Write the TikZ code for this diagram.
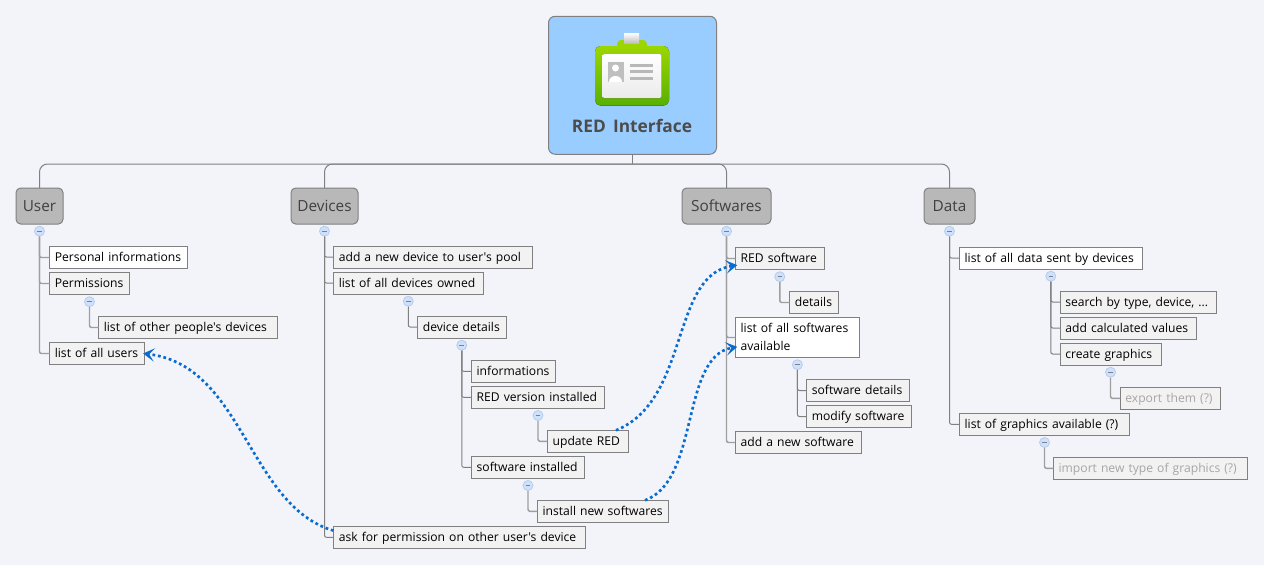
\documentclass[tikz,border=0pt]{standalone}
\usepackage{fontspec}
\setmainfont{Open Sans}[Ligatures=TeXOff,WordSpace=1.6]
\usetikzlibrary{arrows.meta,positioning}
\definecolor{pagebg}{HTML}{F2F4FA}
\definecolor{leafbg}{HTML}{F2F2F2}
\definecolor{rootbg}{HTML}{99CCFF}
\definecolor{branchbg}{HTML}{B8B8B8}
\definecolor{linegray}{HTML}{808080}
\definecolor{ghosttext}{HTML}{A6A6A6}
\definecolor{relblue}{HTML}{0B6CD0}
\definecolor{togglebg}{HTML}{CFE0FA}
\definecolor{toggleline}{HTML}{B4CCF0}
\definecolor{badgetop}{HTML}{9CD600}
\definecolor{badgebot}{HTML}{58B000}
\tikzset{
	branch/.style={draw=linegray,fill=branchbg,rounded corners=3.5pt,line width=.75pt,outer sep=0pt,minimum height=27pt,text=black!75,font=\fontsize{11.5}{14}\selectfont},
	leaf/.style={draw=linegray,fill=leafbg,line width=.75pt,outer sep=0pt,inner xsep=4pt,inner ysep=0pt,text height=8.5pt,text depth=2.5pt,minimum height=16.5pt,align=left,anchor=west,font=\fontsize{9.1}{13.5}\selectfont},
	toggle/.style={circle,draw=toggleline,fill=togglebg,line width=.6pt,minimum size=7.5pt,inner sep=0pt,path picture={\draw[linegray,line width=.5pt] ([xshift=-1.7pt]path picture bounding box.center) -- ([xshift=1.7pt]path picture bounding box.center);}},
	link/.style={draw=linegray,line width=.75pt},
	stem/.style={draw=black!38,line width=1.1pt,rounded corners=1.5pt},
	relation/.style={draw=relblue,line width=2pt,dash pattern=on 2.1pt off 2.1pt,-{Stealth[length=8.5pt,width=10pt,inset=4pt]}}
}
\begin{document}
\begin{tikzpicture}[x=.75pt,y=-.75pt]
	\useasboundingbox[fill=pagebg] (0,0) rectangle (1264,565);

	\node[draw=linegray,fill=rootbg,rounded corners=5pt,line width=.75pt,outer sep=0pt,minimum width=126pt,minimum height=103.5pt] (root) at (632.5,85.25) {};
	\node[font=\bfseries\fontsize{13}{16}\selectfont,text=black!70,inner sep=0pt] (rootlabel) at (632,125.5) {RED Interface};

	% badge
	\fill[rounded corners=3pt,badgetop] (617,40) rectangle (647,52);
	\fill[rounded corners=4pt,top color=badgetop,bottom color=badgebot] (595,46) rectangle (669,105.5);
	\fill[top color=white,bottom color=black!25] (624,33) rectangle (639,43);
	\fill[rounded corners=1pt,top color=white,bottom color=black!8] (602.5,54) rectangle (661.5,98);
	\fill[black!25] (607.5,62) rectangle (623.5,81.5);
	\fill[white] (615.5,68) circle (3.5);
	\fill[white] (609,81.5) .. controls (609,74) and (622,74) .. (622,81.5) -- cycle;
	\foreach \y in {65,71.5,78}
		\fill[black!28] (630,\y-1.5) rectangle (653,\y+1.5);

	\foreach \name/\x/\w/\txt in {User/39.5/47/User,Devices/324.5/67/Devices,Softwares/726.5/89/Softwares,Data/949.5/51/Data}
		\node[branch,minimum width=\w*.75pt] (\name) at (\x,206) {\txt};

	\foreach \name/\x/\y/\w/\txt in {
		perms/49.5/283.5/80/Permissions,
		otherdev/98.5/327.5/178.5/list of other people's devices,
		allusers/49.5/353.5/95/list of all users,
		newdev/333.5/257/198.5/add a new device to user's pool,
		alldev/333.5/283/149.5/list of all devices owned,
		devdetails/417.5/327/88.5/device details,
		devinfo/471.3/371.3/84.4/informations,
		redver/471.3/397.3/133.4/RED version installed,
		updred/547.3/441.3/81.4/update RED,
		swinst/471.3/467.3/113.4/software installed,
		instsw/537.3/511.3/131.4/install new softwares,
		askperm/333.5/537.3/252.2/ask for permission on other user's device,
		redsw/735.3/258.5/89/RED software,
		swdet/789.5/302.5/49/details,
		swdetails/806.5/390.5/103/software details,
		modsw/806.5/416.5/105/modify software,
		newsw/735.3/442.5/126.2/add a new software,
		search/1060/302/156/{search by type, device, ...},
		addcalc/1060/328/136/add calculated values,
		graphics/1060/354/101/create graphics,
		graphlist/959.3/424.3/170.4/list of graphics available (?)}
		\node[leaf,text width=\w*.75pt-8pt] (\name) at (\x,\y) {\txt};

	\node[leaf,fill=white,text width=138*.75pt-8pt] (perinfo) at (49.5,257.5) {Personal informations};
	\node[leaf,fill=white,text width=183*.75pt-8pt] (alldata) at (959.3,258) {list of all data sent by devices};
	\node[leaf,fill=white,text width=124.2*.75pt-8pt,minimum height=30pt,text depth=16pt] (swlist) at (735.3,337.5) {list of all softwares\\available};
	\node[leaf,text=ghosttext,text width=100.4*.75pt-8pt] (export) at (1120,398.3) {export them (?)};
	\node[leaf,text=ghosttext,text width=194.2*.75pt-8pt] (importgr) at (1053.3,468.3) {import new type of graphics (?)};

	\coordinate (hub) at (632.5,164);
	\draw[link] (root.south) -- (hub);
	\draw[link,rounded corners=6pt] (User.north) |- (hub) -| (Data.north);
	\draw[link,rounded corners=6pt] (Devices.north) |- (hub);
	\draw[link,rounded corners=6pt] (Softwares.north) |- (hub);

	\foreach \up in {User,Devices,Softwares,Data,perms,alldev,devdetails,redver,swinst,redsw,swlist,alldata,graphics,graphlist}
		\node[toggle] (tg\up) at ([yshift=-5.4pt]\up.south) {};

	\foreach \up/\kid in {User/perinfo,User/perms,User/allusers,Softwares/redsw,Softwares/swlist,Softwares/newsw,perms/otherdev,redver/updred,swinst/instsw,redsw/swdet,graphics/export,graphlist/importgr}
		\draw[stem] (tg\up) |- (\kid.west);
	\foreach \up/\kid in {Devices/newdev,Devices/alldev,Devices/askperm,alldev/devdetails,devdetails/devinfo,devdetails/redver,devdetails/swinst,swlist/swdetails,swlist/modsw,Data/alldata,Data/graphlist,alldata/search,alldata/addcalc,alldata/graphics}
		\draw[link,rounded corners=1.5pt] (tg\up) |- (\kid.west);

	\draw[relation] ([yshift=5pt]askperm.west) .. controls +(-85,-25) and +(100,12) .. ([xshift=-1pt]allusers.east);
	\draw[relation] ([xshift=21pt]updred.north) .. controls +(74,-30) and +(-67,10) .. ([xshift=1.5pt,yshift=-5pt]redsw.west);
	\draw[relation] ([xshift=31.5pt]instsw.north) .. controls +(55,-20) and +(-57,10) .. ([xshift=1.5pt,yshift=-7pt]swlist.west);
\end{tikzpicture}
\end{document}
